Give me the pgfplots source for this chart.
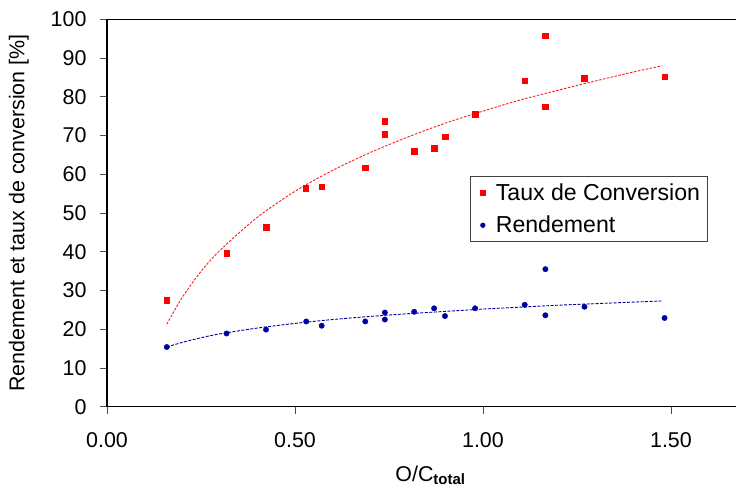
\documentclass[border=0pt]{standalone}
\usepackage{fontspec}
\setmainfont{Liberation Sans}
\usepackage{pgfplots}
\pgfplotsset{compat=1.18}
\usetikzlibrary{calc}
\definecolor{myred}{RGB}{255,0,0}
\definecolor{myblue}{RGB}{0,0,160}
\begin{document}
\begin{tikzpicture}
\begin{axis}[name=ax, scale only axis, width=629bp, height=387.4bp,
  xmin=0, xmax=1.673, ymin=0, ymax=100,
  axis x line*=bottom, axis y line*=left,
  axis line style={line width=1.2bp, black},
  xtick={0,0.5,1,1.5}, ytick={0,10,...,100},
  tick align=outside, major tick length=7bp,
  tick style={line width=0.9bp, black!70},
  /pgf/number format/assume math mode=true,
  tick label style={font=\fontsize{21.5}{25}\selectfont},
  yticklabel style={xshift=-10bp},
  xticklabel style={yshift=-15bp, /pgf/number format/.cd, fixed, fixed zerofill, precision=2},
  label style={font=\fontsize{21.5}{25}\selectfont},
  xlabel={O/C\textsubscript{\textbf{total}}},
  xlabel style={yshift=-11.5bp, xshift=9bp},
  ylabel={Rendement et taux de conversion [\%]},
  ylabel style={yshift=15bp},
  legend style={at={(rel axis cs:0.577,0.5955)}, anchor=north west,
    draw=black!75, line width=0.8bp, font=\fontsize{23.2}{26}\selectfont,
    inner xsep=2.5bp, inner ysep=2.5bp, row sep=4bp, nodes={inner sep=5bp}, cells={anchor=west}},
  legend image code/.code={\path[draw=none] (0bp,0bp) -- (18bp,0bp); \draw[#1, mark size=2.2bp] plot coordinates {(10bp,0bp)};},
]
\addplot[only marks, mark=square*, mark size=2.8bp, color=myred] coordinates {
(0.159,27.5) (0.318,39.6) (0.423,46.4) (0.529,56.4) (0.571,56.8) (0.687,61.7)
(0.739,73.7) (0.739,70.3) (0.817,65.9) (0.870,66.8) (0.899,69.7) (0.979,75.5)
(1.111,84.1) (1.166,95.8) (1.166,77.4) (1.270,84.8) (1.483,85.2)};
\addlegendentry{Taux de Conversion}
\addplot[only marks, mark=*, mark size=2.7bp, color=myblue] coordinates {
(0.159,15.4) (0.318,18.9) (0.423,19.9) (0.530,22.0) (0.571,20.9) (0.687,22.0)
(0.739,24.3) (0.739,22.5) (0.817,24.5) (0.870,25.4) (0.899,23.4) (0.979,25.4)
(1.111,26.3) (1.166,35.5) (1.166,23.6) (1.270,25.8) (1.483,22.9)};
\addlegendentry{Rendement}
\addplot[forget plot, no marks, smooth, color=myred!90, line width=0.9bp, dash pattern=on 2.5bp off 1.5bp] coordinates {
(0.159,21.3) (0.2,28.2) (0.25,34.9) (0.3,40.3) (0.4,48.9) (0.5,55.6) (0.6,61.0)
(0.7,65.6) (0.8,69.6) (0.9,73.2) (1.0,76.3) (1.1,79.2) (1.2,81.7) (1.3,84.1)
(1.4,86.4) (1.477,88.0)};
\addplot[forget plot, no marks, smooth, color=myblue, line width=0.9bp, dash pattern=on 3bp off 1.5bp] coordinates {
(0.159,15.4) (0.2,16.6) (0.25,17.8) (0.3,18.8) (0.4,20.3) (0.5,21.5) (0.6,22.5)
(0.7,23.3) (0.8,24.0) (0.9,24.6) (1.0,25.2) (1.1,25.7) (1.2,26.2) (1.3,26.6)
(1.4,27.0) (1.477,27.3)};
\draw[line width=1.2bp, black] (rel axis cs:0,1) -- (rel axis cs:1,1);
\end{axis}
\pgfresetboundingbox
\useasboundingbox ($(ax.south west)+(-107bp,-82.3bp)$) rectangle ($(ax.north east)+(0bp,19.3bp)$);
\end{tikzpicture}
\end{document}
